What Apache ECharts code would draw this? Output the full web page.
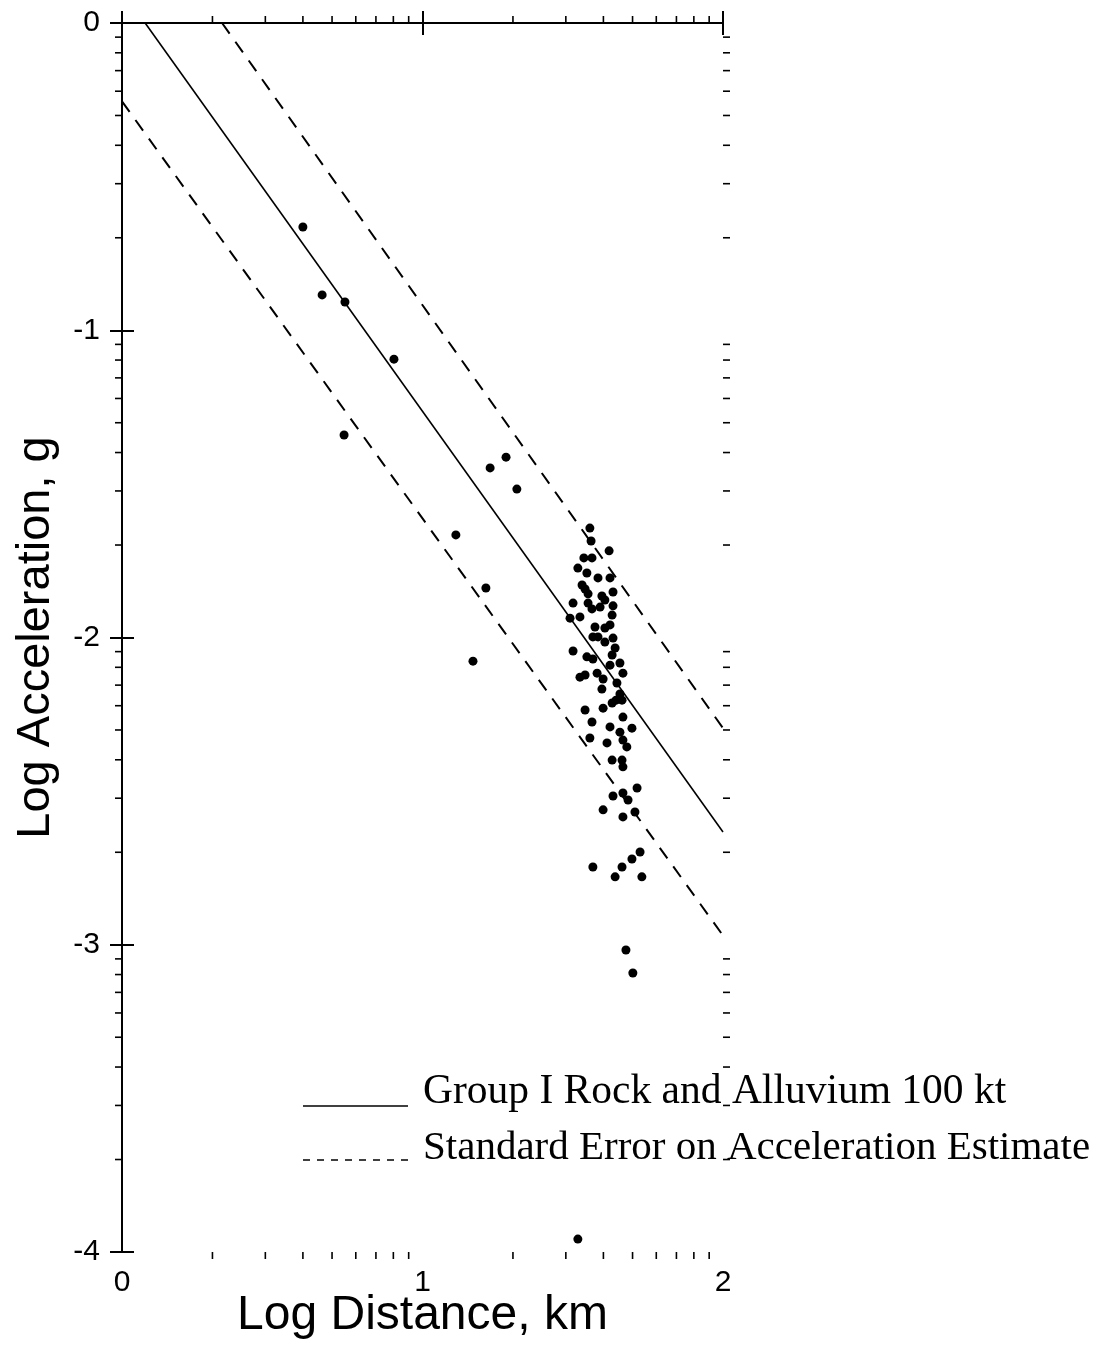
<!DOCTYPE html>
<html>
<head>
<meta charset="utf-8">
<script src="https://cdn.jsdelivr.net/npm/echarts@6/dist/echarts.min.js"></script>
<style>
html,body{margin:0;padding:0;background:#fff;}
#chart{width:1106px;height:1365px;}
</style>
</head>
<body>
<div id="chart"></div>
<script>
// ---- data (log10 distance km, log10 acceleration g) ----
var isolatedPoints = [
  [0.602,-0.664],[0.666,-0.885],[0.742,-0.908],[0.905,-1.094],[0.739,-1.341],
  [1.225,-1.448],[1.278,-1.413],[1.314,-1.517],[1.111,-1.666],[1.211,-1.839],
  [1.168,-2.077],[1.677,-3.017],[1.700,-3.092],[1.517,-3.958]
];
var clusterPoints = [
  [1.557,-1.644],[1.561,-1.686],[1.621,-1.718],[1.537,-1.741],[1.564,-1.741],
  [1.517,-1.774],[1.547,-1.790],[1.584,-1.806],[1.624,-1.806],[1.531,-1.829],
  [1.541,-1.842],[1.551,-1.858],[1.634,-1.852],[1.597,-1.865],[1.501,-1.888],
  [1.551,-1.888],[1.607,-1.878],[1.634,-1.897],[1.591,-1.901],[1.564,-1.907],
  [1.524,-1.933],[1.491,-1.937],[1.631,-1.927],[1.574,-1.966],[1.607,-1.969],
  [1.624,-1.959],[1.567,-1.998],[1.634,-2.002],[1.607,-2.015],[1.584,-1.998],
  [1.501,-2.044],[1.547,-2.063],[1.567,-2.070],[1.631,-2.057],[1.641,-2.034],
  [1.624,-2.090],[1.657,-2.083],[1.667,-2.116],[1.524,-2.129],[1.541,-2.122],
  [1.581,-2.116],[1.601,-2.135],[1.597,-2.168],[1.647,-2.148],[1.657,-2.184],
  [1.541,-2.236],[1.601,-2.230],[1.631,-2.213],[1.664,-2.204],[1.564,-2.275],
  [1.667,-2.259],[1.624,-2.291],[1.657,-2.308],[1.697,-2.295],[1.557,-2.327],
  [1.614,-2.343],[1.667,-2.334],[1.680,-2.356],[1.631,-2.399],[1.664,-2.399],
  [1.667,-2.421],[1.714,-2.490],[1.667,-2.506],[1.634,-2.516],[1.684,-2.529],
  [1.601,-2.561],[1.707,-2.568],[1.667,-2.584],[1.724,-2.698],[1.697,-2.721],
  [1.567,-2.747],[1.664,-2.747],[1.641,-2.779],[1.730,-2.779],[1.644,-2.204]
];
var regressionLine = [[0.077,0],[2,-2.633]];
var upperErrorLine = [[0.333,0],[2,-2.295]];
var lowerErrorLine = [[0,-0.255],[2,-2.970]];

// log-cycle minor ticks: log10(2..9) within each decade
var xMinorTicks = [0.301,0.477,0.602,0.699,0.778,0.845,0.903,0.954,
                   1.301,1.477,1.602,1.699,1.778,1.845,1.903,1.954];
var yMinorTicks = [-0.699,-0.523,-0.398,-0.301,-0.222,-0.155,-0.097,-0.046,
                   -1.699,-1.523,-1.398,-1.301,-1.222,-1.155,-1.097,-1.046,
                   -2.699,-2.523,-2.398,-2.301,-2.222,-2.155,-2.097,-2.046,
                   -3.699,-3.523,-3.398,-3.301,-3.222,-3.155,-3.097,-3.046];

var legendSolid = 'Group I Rock and Alluvium 100 kt';
var legendDashed = 'Standard Error on Acceleration Estimate';

var chart = echarts.init(document.getElementById('chart'));
var sans = '"Liberation Sans", Arial, Helvetica, sans-serif';
var serif = '"Liberation Serif", "Times New Roman", serif';
var axisLine = {show:true, lineStyle:{color:'#000', width:2}};
var majorTick = {show:true, inside:false, length:12, lineStyle:{color:'#000', width:2}};

function tickSeries(name, data, xi, yi, size, offset){
  return {
    name:name, type:'scatter', xAxisIndex:xi, yAxisIndex:yi,
    data:data, symbol:'rect', symbolSize:size, symbolOffset:offset,
    itemStyle:{color:'#000', opacity:1}, clip:false, silent:true, z:5,
    emphasis:{disabled:true}
  };
}

var option = {
  backgroundColor:'#fff',
  animation:false,
  grid:{left:122, top:23, width:601, height:1229, containLabel:false, outerBoundsMode:'none'},
  xAxis:[
    {type:'value', position:'bottom', min:0, max:2, interval:1,
     axisLine:axisLine, axisTick:majorTick, splitLine:{show:false},
     axisLabel:{fontFamily:sans, fontSize:30, color:'#000', margin:16},
     name:'Log Distance, km', nameLocation:'middle', nameGap:40, nameMoveOverlap:false,
     nameTextStyle:{fontFamily:sans, fontSize:48, color:'#000'}},
    {type:'value', position:'top', min:0, max:2, interval:1,
     axisLine:axisLine, axisTick:majorTick, splitLine:{show:false},
     axisLabel:{show:false}}
  ],
  yAxis:[
    {type:'value', position:'left', min:-4, max:0, interval:1,
     axisLine:axisLine, axisTick:majorTick, splitLine:{show:false},
     axisLabel:{fontFamily:sans, fontSize:30, color:'#000', margin:22},
     name:'Log Acceleration, g', nameLocation:'middle', nameGap:62,
     nameTextStyle:{fontFamily:sans, fontSize:47, color:'#000'}},
    {type:'value', position:'right', min:-4, max:0, interval:1,
     axisLine:axisLine, axisTick:majorTick, splitLine:{show:false},
     axisLabel:{show:false}}
  ],
  series:[
    {name:legendSolid, type:'line', data:regressionLine, symbol:'none',
     lineStyle:{color:'#000', width:1.6}, z:3},
    {name:legendDashed, type:'line', data:upperErrorLine, symbol:'none',
     lineStyle:{color:'#000', width:2, type:[13,10]}, z:3},
    {name:legendDashed+' (lower)', type:'line', data:lowerErrorLine, symbol:'none',
     lineStyle:{color:'#000', width:2, type:[13,10]}, z:3},
    {name:'Observations', type:'scatter', data:isolatedPoints.concat(clusterPoints),
     symbol:'circle', symbolSize:9, itemStyle:{color:'#000', opacity:1}, z:4},
    tickSeries('xMinorBottom', xMinorTicks.map(function(v){return [v,-4];}), 0, 0, [1.6,7], [0,3.5]),
    tickSeries('xMinorTop', xMinorTicks.map(function(v){return [v,0];}), 1, 1, [1.6,7], [0,-3.5]),
    tickSeries('yMinorLeft', yMinorTicks.map(function(v){return [0,v];}), 0, 0, [7,1.6], [-3.5,0]),
    tickSeries('yMinorRight', yMinorTicks.map(function(v){return [2,v];}), 1, 1, [7,1.6], [3.5,0])
  ],
  graphic:[
    {type:'line', shape:{x1:303, y1:1106, x2:408, y2:1106},
     style:{stroke:'#000', lineWidth:1.6}, z:10},
    {type:'text', left:423, top:1071,
     style:{text:legendSolid, font:'41.5px '+serif, fill:'#000'}, z:10},
    {type:'line', shape:{x1:303, y1:1160, x2:408, y2:1160},
     style:{stroke:'#000', lineWidth:1.6, lineDash:[7,7]}, z:10},
    {type:'text', left:423, top:1128,
     style:{text:legendDashed, font:'41px '+serif, fill:'#000'}, z:10}
  ]
};
chart.setOption(option);
</script>
</body>
</html>
